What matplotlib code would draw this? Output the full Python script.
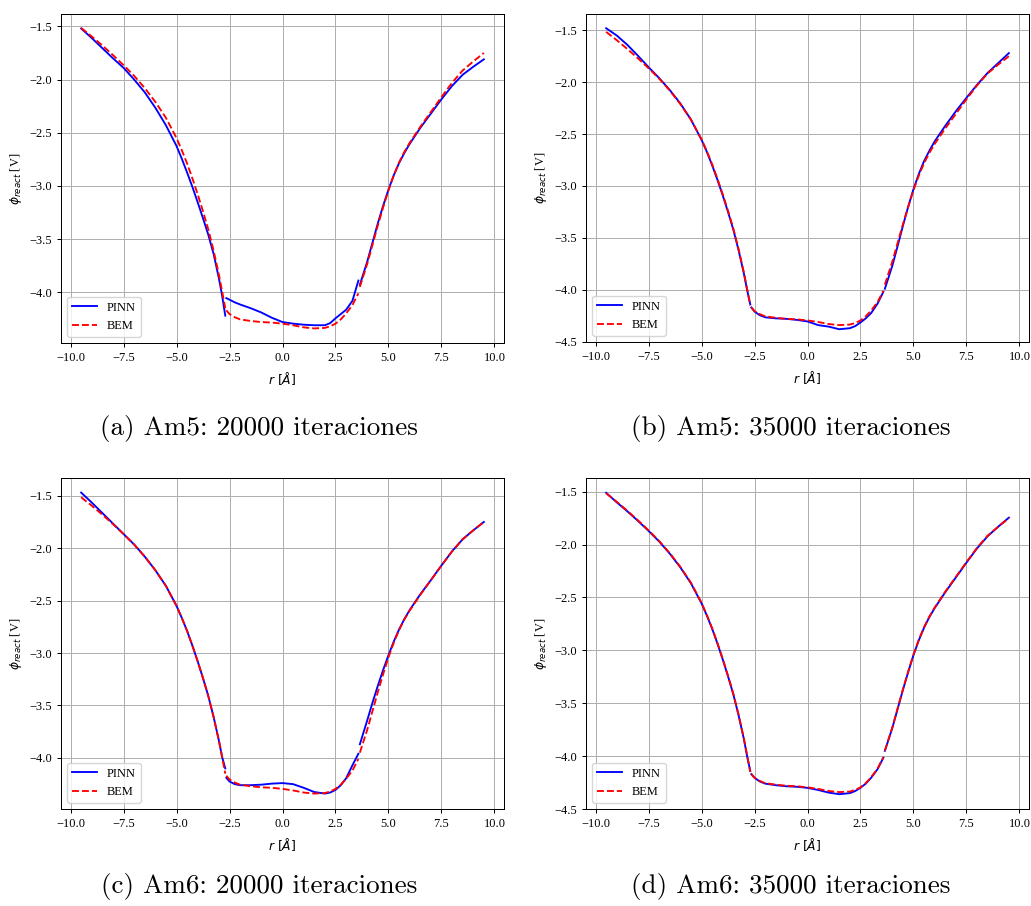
import numpy as np
import matplotlib
matplotlib.use("Agg")
import matplotlib.pyplot as plt

plt.rcParams["font.family"] = ["Liberation Serif", "DejaVu Serif"]
plt.rcParams["mathtext.fontset"] = "dejavusans"
plt.rcParams["axes.unicode_minus"] = True

NAN = np.nan

# Radial coordinate along the probe line (three regions separated by gaps)
r = [-9.5, -9.0, -8.5, -8.0, -7.5, -7.0, -6.5, -6.0, -5.5, -5.0, -4.75, -4.5,
     -4.25, -4.0, -3.75, -3.5, -3.25, -3.0, -2.85, -2.7, NAN,
     -2.65, -2.5, -2.25, -2.0, -1.5, -1.0, -0.5, 0.0, 0.5, 1.0, 1.5, 2.0,
     2.25, 2.5, 2.75, 3.0, 3.3, 3.58, NAN,
     3.65, 4.0, 4.25, 4.5, 4.75, 5.0, 5.25, 5.5, 5.75, 6.0, 6.5, 7.0, 7.5,
     8.0, 8.5, 9.0, 9.5]

# Reference solution (BEM)
phi_bem = [-1.515, -1.595, -1.68, -1.77, -1.865, -1.965, -2.08, -2.21, -2.36,
           -2.55, -2.665, -2.79, -2.93, -3.08, -3.24, -3.41, -3.61, -3.835,
           -3.99, -4.15, NAN,
           -4.17, -4.205, -4.235, -4.255, -4.27, -4.28, -4.285, -4.295, -4.31,
           -4.33, -4.34, -4.335, -4.32, -4.295, -4.255, -4.20, -4.12, -4.01, NAN,
           -3.95, -3.73, -3.55, -3.37, -3.20, -3.04, -2.90, -2.78, -2.68,
           -2.595, -2.445, -2.305, -2.165, -2.03, -1.915, -1.83, -1.75]

# PINN predictions
phi_am5_20k = [-1.52, -1.61, -1.705, -1.80, -1.89, -2.0, -2.12, -2.265, -2.43,
               -2.625, -2.745, -2.875, -3.01, -3.155, -3.305, -3.46, -3.64,
               -3.87, -4.03, -4.22, NAN,
               -4.055, -4.07, -4.095, -4.115, -4.15, -4.19, -4.24, -4.28, -4.295,
               -4.305, -4.31, -4.31, -4.29, -4.245, -4.205, -4.165, -4.08, -3.89,
               NAN,
               -3.93, -3.71, -3.53, -3.35, -3.185, -3.035, -2.90, -2.785, -2.69,
               -2.605, -2.455, -2.32, -2.185, -2.06, -1.955, -1.88, -1.81]

phi_am5_35k = [-1.48, -1.55, -1.64, -1.745, -1.855, -1.96, -2.075, -2.205, -2.36,
               -2.555, -2.67, -2.80, -2.94, -3.09, -3.25, -3.42, -3.62, -3.845,
               -4.0, -4.14, NAN,
               -4.17, -4.21, -4.245, -4.265, -4.275, -4.28, -4.29, -4.305, -4.34,
               -4.355, -4.38, -4.37, -4.35, -4.315, -4.275, -4.225, -4.135, -4.02,
               NAN,
               -3.99, -3.77, -3.58, -3.385, -3.20, -3.03, -2.885, -2.76, -2.66,
               -2.57, -2.42, -2.28, -2.15, -2.025, -1.91, -1.815, -1.72]

phi_am6_20k = [-1.47, -1.565, -1.665, -1.765, -1.865, -1.965, -2.08, -2.21, -2.36,
               -2.55, -2.665, -2.79, -2.93, -3.08, -3.24, -3.41, -3.61, -3.835,
               -3.99, -4.10, NAN,
               -4.19, -4.225, -4.25, -4.26, -4.26, -4.255, -4.245, -4.24, -4.25,
               -4.285, -4.325, -4.34, -4.33, -4.305, -4.26, -4.195, -4.07, -3.96,
               NAN,
               -3.87, -3.64, -3.47, -3.31, -3.16, -3.02, -2.89, -2.775, -2.675,
               -2.59, -2.44, -2.305, -2.165, -2.03, -1.915, -1.83, -1.75]

phi_am6_35k = [-1.51, -1.60, -1.685, -1.775, -1.87, -1.97, -2.085, -2.215, -2.365,
               -2.555, -2.67, -2.795, -2.935, -3.085, -3.245, -3.415, -3.615,
               -3.84, -4.0, -4.14, NAN,
               -4.17, -4.205, -4.24, -4.26, -4.275, -4.285, -4.29, -4.30, -4.32,
               -4.345, -4.36, -4.35, -4.33, -4.30, -4.26, -4.205, -4.125, -4.015,
               NAN,
               -3.95, -3.735, -3.555, -3.375, -3.205, -3.045, -2.905, -2.785,
               -2.685, -2.60, -2.45, -2.31, -2.17, -2.035, -1.92, -1.83, -1.745]

captions = ["(a) Am5: 20000 iteraciones", "(b) Am5: 35000 iteraciones",
            "(c) Am6: 20000 iteraciones", "(d) Am6: 35000 iteraciones"]
pinn_series = [phi_am5_20k, phi_am5_35k, phi_am6_20k, phi_am6_35k]
y_limits = [(-4.477, -1.384), (-4.503, -1.343), (-4.487, -1.331), (-4.50, -1.37)]

W, H = 1031, 906
fig = plt.figure(figsize=(W / 100, H / 100), dpi=100)

# axes boxes in pixels: left, top, right, bottom
boxes = [(61, 14, 504, 343), (586, 14, 1029, 342),
         (61, 478, 504, 809), (586, 478, 1029, 809)]
caption_pos = [(259, 428), (791, 428), (259, 887), (791, 887)]

fs = 8.9
for box, pinn, ylim, cap, cpos in zip(boxes, pinn_series, y_limits,
                                      captions, caption_pos):
    l, t, rgt, b = box
    ax = fig.add_axes([l / W, 1 - b / H, (rgt - l) / W, (b - t) / H])
    ax.plot(r, pinn, color="blue", lw=1.35, label="PINN")
    ax.plot(r, phi_bem, color="red", ls="--", lw=1.35, label="BEM")
    ax.set_xlim(-10.45, 10.45)
    ax.set_ylim(*ylim)
    ax.grid(True, color="#b0b0b0", lw=0.72)
    ax.set_axisbelow(True)
    for s in ax.spines.values():
        s.set_linewidth(0.72)
    ax.tick_params(labelsize=fs, width=0.72, length=3.1)
    ax.set_xlabel(r"$r\ [Å]$", fontsize=fs)
    ax.set_ylabel(r"$\phi_{react}$ [V]", fontsize=fs)
    ax.legend(loc="lower left", fontsize=fs)
    fig.text(cpos[0] / W, 1 - cpos[1] / H, cap, family="cmr10",
             fontsize=19.5, ha="center", va="center")

fig.savefig("out.png", dpi=100)
